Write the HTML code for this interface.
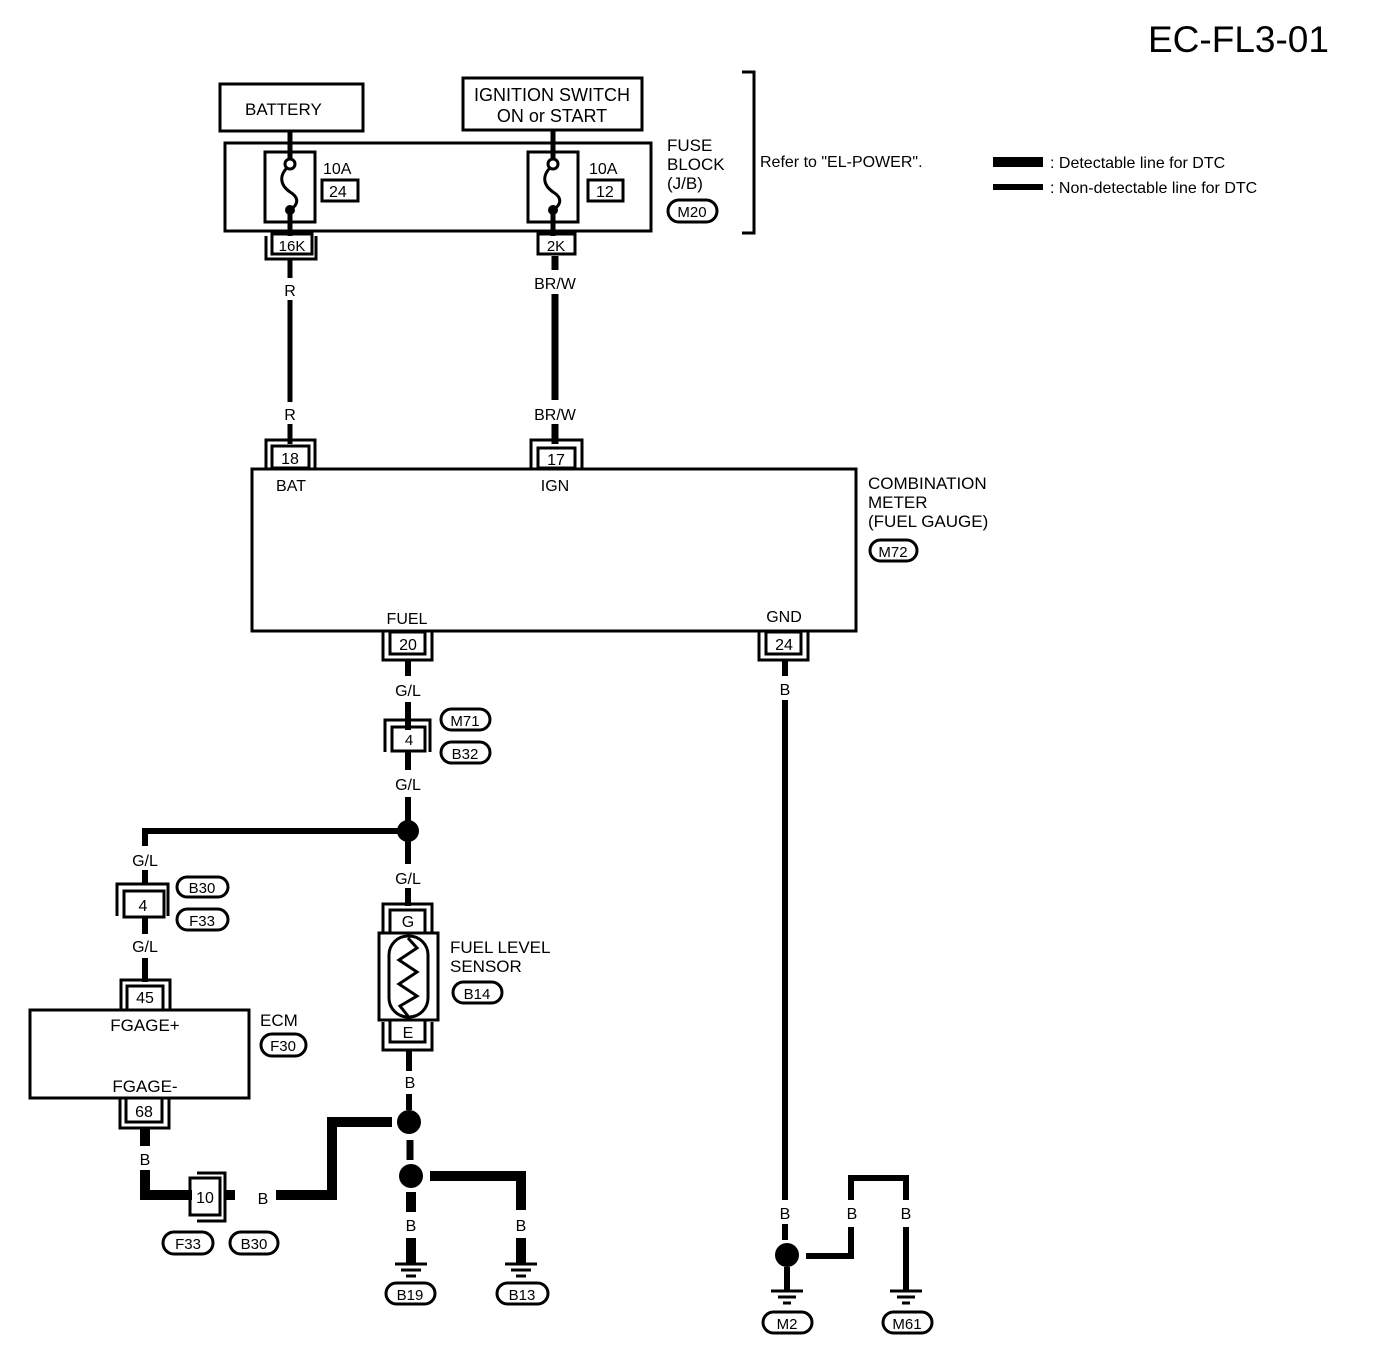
<!DOCTYPE html>
<html><head><meta charset="utf-8"><style>
html,body{margin:0;padding:0;background:#fff;}
svg{display:block;}
text{font-family:"Liberation Sans",sans-serif;fill:#000;}
</style></head><body>
<svg width="1376" height="1366" viewBox="0 0 1376 1366" xmlns="http://www.w3.org/2000/svg">
<g fill="none" stroke="#000">
<!-- title -->
</g>
<text x="1148" y="52" font-size="37">EC-FL3-01</text>

<!-- battery / ignition boxes -->
<g fill="none" stroke="#000" stroke-width="3">
<rect x="220" y="84" width="143" height="47"/>
<rect x="463" y="78" width="179" height="52"/>
<rect x="225" y="143" width="426" height="88"/>
<rect x="265" y="152" width="50" height="70"/>
<rect x="528" y="152" width="50" height="70"/>
<rect x="322" y="180" width="36" height="21"/>
<rect x="588" y="180" width="35" height="21"/>
<path d="M742,72 H754 V233 H742"/>
</g>
<text x="245" y="115" font-size="17">BATTERY</text>
<text x="552" y="101" font-size="18" text-anchor="middle">IGNITION SWITCH</text>
<text x="552" y="122" font-size="18" text-anchor="middle">ON or START</text>
<!-- fuse wires -->
<g stroke="#000" fill="none">
<line x1="290" y1="131" x2="290" y2="160" stroke-width="5"/>
<line x1="553" y1="130" x2="553" y2="160" stroke-width="5"/>
<path d="M290,165 C278,175 280,185 290,192 C300,198 298,205 290,210" stroke-width="3"/>
<path d="M553,165 C541,175 543,185 553,192 C563,198 561,205 553,210" stroke-width="3"/>
<circle cx="290" cy="164" r="5" stroke-width="3" fill="#fff"/>
<circle cx="553" cy="164" r="5" stroke-width="3" fill="#fff"/>
<line x1="290" y1="210" x2="290" y2="236" stroke-width="5"/>
<line x1="553" y1="210" x2="553" y2="236" stroke-width="5"/>
</g>
<circle cx="290" cy="210" r="5"/><circle cx="553" cy="210" r="5"/>
<text x="323" y="174" font-size="16">10A</text>
<text x="329" y="197" font-size="16">24</text>
<text x="589" y="174" font-size="16">10A</text>
<text x="596" y="197" font-size="16">12</text>
<text x="667" y="151" font-size="17">FUSE</text>
<text x="667" y="170" font-size="17">BLOCK</text>
<text x="667" y="189" font-size="17">(J/B)</text>
<rect x="668" y="200" width="49" height="22" rx="11" fill="none" stroke="#000" stroke-width="3"/>
<text x="692" y="217" font-size="15" text-anchor="middle">M20</text>
<text x="760" y="167" font-size="16">Refer to "EL-POWER".</text>
<rect x="993" y="157" width="50" height="10"/>
<rect x="993" y="184" width="50" height="6"/>
<text x="1050" y="168" font-size="16">: Detectable line for DTC</text>
<text x="1050" y="193" font-size="16">: Non-detectable line for DTC</text>

<!-- connectors below fuse block -->
<g fill="none" stroke="#000" stroke-width="3">
<rect x="272" y="234" width="40" height="20"/>
<path d="M266,236 V259 H316 V236"/>
<rect x="538" y="234" width="37" height="20"/>
</g>
<text x="292" y="251" font-size="15" text-anchor="middle">16K</text>
<text x="556" y="251" font-size="15" text-anchor="middle">2K</text>

<!-- R / BR/W wires -->
<g stroke="#000">
<line x1="290" y1="259" x2="290" y2="278" stroke-width="5"/>
<line x1="290" y1="300" x2="290" y2="402" stroke-width="5"/>
<line x1="290" y1="424" x2="290" y2="444" stroke-width="5"/>
<line x1="555" y1="256" x2="555" y2="270" stroke-width="7"/>
<line x1="555" y1="294" x2="555" y2="400" stroke-width="7"/>
<line x1="555" y1="424" x2="555" y2="444" stroke-width="7"/>
</g>
<text x="290" y="296" font-size="16" text-anchor="middle">R</text>
<text x="555" y="289" font-size="16" text-anchor="middle">BR/W</text>
<text x="290" y="420" font-size="16" text-anchor="middle">R</text>
<text x="555" y="420" font-size="16" text-anchor="middle">BR/W</text>

<!-- conn 18/17 -->
<g fill="none" stroke="#000" stroke-width="3">
<path d="M266,468 V440 H315 V468"/>
<rect x="272" y="446" width="37" height="22"/>
<path d="M531,468 V440 H582 V468"/>
<rect x="538" y="448" width="37" height="20"/>
<rect x="252" y="469" width="604" height="162"/>
</g>
<text x="290" y="464" font-size="16" text-anchor="middle">18</text>
<text x="556" y="465" font-size="16" text-anchor="middle">17</text>
<text x="291" y="491" font-size="16" text-anchor="middle">BAT</text>
<text x="555" y="491" font-size="16" text-anchor="middle">IGN</text>
<text x="407" y="624" font-size="16" text-anchor="middle">FUEL</text>
<text x="784" y="622" font-size="16" text-anchor="middle">GND</text>
<text x="868" y="489" font-size="17">COMBINATION</text>
<text x="868" y="508" font-size="17">METER</text>
<text x="868" y="527" font-size="17">(FUEL GAUGE)</text>
<rect x="870" y="540" width="47" height="21" rx="10.5" fill="none" stroke="#000" stroke-width="3"/>
<text x="893" y="557" font-size="15" text-anchor="middle">M72</text>

<!-- conn 20 / 24 -->
<g fill="none" stroke="#000" stroke-width="3">
<rect x="390" y="632" width="35" height="22"/>
<path d="M383,632 V660 H432 V632"/>
<rect x="766" y="632" width="35" height="22"/>
<path d="M759,632 V660 H808 V632"/>
</g>
<text x="408" y="650" font-size="16" text-anchor="middle">20</text>
<text x="784" y="650" font-size="16" text-anchor="middle">24</text>

<!-- G/L main -->
<g stroke="#000" stroke-width="6">
<line x1="408" y1="660" x2="408" y2="676"/>
<line x1="408" y1="702" x2="408" y2="730"/>
<line x1="408" y1="752" x2="408" y2="770"/>
<line x1="408" y1="797" x2="408" y2="846"/>
<line x1="408" y1="846" x2="408" y2="864"/>
<line x1="408" y1="888" x2="408" y2="906"/>
<line x1="142" y1="831" x2="408" y2="831"/>
<line x1="145" y1="828" x2="145" y2="846"/>
<line x1="145" y1="870" x2="145" y2="884"/>
<line x1="145" y1="918" x2="145" y2="934"/>
<line x1="145" y1="958" x2="145" y2="982"/>
<line x1="785" y1="660" x2="785" y2="676"/>
<line x1="785" y1="700" x2="785" y2="1200"/>
<line x1="785" y1="1224" x2="785" y2="1240"/>
</g>
<text x="408" y="696" font-size="16" text-anchor="middle">G/L</text>
<text x="785" y="695" font-size="16" text-anchor="middle">B</text>
<g fill="none" stroke="#000" stroke-width="3">
<rect x="392" y="727" width="33" height="24"/>
<path d="M385,752 V720 H430 V752"/>
</g>
<text x="409" y="745" font-size="15" text-anchor="middle">4</text>
<rect x="441" y="709" width="49" height="21" rx="10.5" fill="none" stroke="#000" stroke-width="3"/>
<text x="465" y="726" font-size="15" text-anchor="middle">M71</text>
<rect x="441" y="742" width="49" height="21" rx="10.5" fill="none" stroke="#000" stroke-width="3"/>
<text x="465" y="759" font-size="15" text-anchor="middle">B32</text>
<text x="408" y="790" font-size="16" text-anchor="middle">G/L</text>
<circle cx="408" cy="831" r="11"/>
<text x="408" y="884" font-size="16" text-anchor="middle">G/L</text>

<!-- left branch -->
<text x="145" y="866" font-size="16" text-anchor="middle">G/L</text>
<g fill="none" stroke="#000" stroke-width="3">
<rect x="124" y="891" width="40" height="26"/>
<path d="M117,916 V884 H168 V916"/>
</g>
<text x="143" y="911" font-size="16" text-anchor="middle">4</text>
<rect x="177" y="877" width="51" height="20" rx="10" fill="none" stroke="#000" stroke-width="3"/>
<text x="202" y="893" font-size="15" text-anchor="middle">B30</text>
<rect x="177" y="909" width="51" height="21" rx="10.5" fill="none" stroke="#000" stroke-width="3"/>
<text x="202" y="926" font-size="15" text-anchor="middle">F33</text>
<text x="145" y="952" font-size="16" text-anchor="middle">G/L</text>
<g fill="none" stroke="#000" stroke-width="3">
<rect x="127" y="986" width="36" height="24"/>
<path d="M121,1010 V980 H170 V1010"/>
<rect x="30" y="1010" width="219" height="88"/>
<rect x="126" y="1098" width="36" height="24"/>
<path d="M120,1098 V1128 H169 V1098"/>
</g>
<text x="145" y="1003" font-size="16" text-anchor="middle">45</text>
<text x="145" y="1031" font-size="17" text-anchor="middle">FGAGE+</text>
<text x="145" y="1092" font-size="17" text-anchor="middle">FGAGE-</text>
<text x="144" y="1117" font-size="16" text-anchor="middle">68</text>
<text x="260" y="1026" font-size="17">ECM</text>
<rect x="261" y="1034" width="45" height="22" rx="11" fill="none" stroke="#000" stroke-width="3"/>
<text x="283" y="1051" font-size="15" text-anchor="middle">F30</text>

<!-- thick B from ECM -->
<g stroke="#000" stroke-width="10" fill="none">
<line x1="145" y1="1128" x2="145" y2="1146"/>
<path d="M145,1170 V1195 H192"/>
<line x1="226" y1="1195" x2="235" y2="1195"/>
<path d="M276,1195 H332 V1122 H392"/>
</g>
<text x="145" y="1165" font-size="16" text-anchor="middle">B</text>
<g fill="none" stroke="#000" stroke-width="3">
<rect x="190" y="1178" width="30" height="37"/>
<path d="M197,1173 H225 V1221 H197"/>
</g>
<text x="205" y="1203" font-size="16" text-anchor="middle">10</text>
<text x="263" y="1204" font-size="16" text-anchor="middle">B</text>
<rect x="163" y="1232" width="50" height="22" rx="11" fill="none" stroke="#000" stroke-width="3"/>
<text x="188" y="1249" font-size="15" text-anchor="middle">F33</text>
<rect x="230" y="1232" width="48" height="22" rx="11" fill="none" stroke="#000" stroke-width="3"/>
<text x="254" y="1249" font-size="15" text-anchor="middle">B30</text>

<!-- fuel level sensor -->
<g fill="none" stroke="#000" stroke-width="3">
<path d="M383,932 V904 H432 V932"/>
<rect x="390" y="910" width="35" height="23"/>
<rect x="379" y="933" width="59" height="87"/>
<rect x="389" y="936" width="39" height="81" rx="19"/>
<path d="M408,938 L417,948 L399,960 L417,972 L399,984 L417,996 L400,1006 L408,1016"/>
<rect x="390" y="1020" width="35" height="22"/>
<path d="M383,1022 V1050 H432 V1022"/>
</g>
<text x="408" y="927" font-size="16" text-anchor="middle">G</text>
<text x="408" y="1038" font-size="16" text-anchor="middle">E</text>
<text x="450" y="953" font-size="17">FUEL LEVEL</text>
<text x="450" y="972" font-size="17">SENSOR</text>
<rect x="453" y="982" width="49" height="21" rx="10.5" fill="none" stroke="#000" stroke-width="3"/>
<text x="477" y="999" font-size="15" text-anchor="middle">B14</text>
<g stroke="#000" stroke-width="6">
<line x1="409" y1="1050" x2="409" y2="1071"/>
<line x1="409" y1="1094" x2="409" y2="1110"/>
</g>
<text x="410" y="1088" font-size="16" text-anchor="middle">B</text>
<circle cx="409" cy="1122" r="12"/>
<line x1="410" y1="1140" x2="410" y2="1160" stroke="#000" stroke-width="7"/>
<circle cx="411" cy="1176" r="12"/>
<g stroke="#000" stroke-width="10" fill="none">
<line x1="411" y1="1192" x2="411" y2="1212"/>
<path d="M430,1176 H521 V1210"/>
<line x1="411" y1="1238" x2="411" y2="1264"/>
<line x1="521" y1="1238" x2="521" y2="1264"/>
</g>
<text x="411" y="1231" font-size="16" text-anchor="middle">B</text>
<text x="521" y="1231" font-size="16" text-anchor="middle">B</text>
<g stroke="#000" stroke-width="3">
<line x1="395" y1="1264" x2="427" y2="1264"/>
<line x1="401" y1="1270" x2="421" y2="1270"/>
<line x1="406" y1="1276" x2="416" y2="1276"/>
<line x1="505" y1="1264" x2="537" y2="1264"/>
<line x1="511" y1="1270" x2="531" y2="1270"/>
<line x1="516" y1="1276" x2="526" y2="1276"/>
</g>
<rect x="386" y="1283" width="49" height="21" rx="10.5" fill="none" stroke="#000" stroke-width="3"/>
<text x="410" y="1300" font-size="15" text-anchor="middle">B19</text>
<rect x="497" y="1283" width="51" height="21" rx="10.5" fill="none" stroke="#000" stroke-width="3"/>
<text x="522" y="1300" font-size="15" text-anchor="middle">B13</text>

<!-- GND right -->
<text x="785" y="1219" font-size="16" text-anchor="middle">B</text>
<circle cx="787" cy="1255" r="12"/>
<g stroke="#000" stroke-width="6" fill="none">
<line x1="787" y1="1267" x2="787" y2="1290"/>
<path d="M806,1256 H851 V1227"/>
<path d="M851,1200 V1178 H906 V1200"/>
<line x1="906" y1="1227" x2="906" y2="1290"/>
</g>
<text x="852" y="1219" font-size="16" text-anchor="middle">B</text>
<text x="906" y="1219" font-size="16" text-anchor="middle">B</text>
<g stroke="#000" stroke-width="3">
<line x1="771" y1="1291" x2="803" y2="1291"/>
<line x1="778" y1="1297" x2="796" y2="1297"/>
<line x1="783" y1="1303" x2="791" y2="1303"/>
<line x1="890" y1="1291" x2="922" y2="1291"/>
<line x1="897" y1="1297" x2="915" y2="1297"/>
<line x1="902" y1="1303" x2="910" y2="1303"/>
</g>
<rect x="763" y="1312" width="49" height="21" rx="10.5" fill="none" stroke="#000" stroke-width="3"/>
<text x="787" y="1329" font-size="15" text-anchor="middle">M2</text>
<rect x="883" y="1312" width="49" height="21" rx="10.5" fill="none" stroke="#000" stroke-width="3"/>
<text x="907" y="1329" font-size="15" text-anchor="middle">M61</text>
</svg>
</body></html>
